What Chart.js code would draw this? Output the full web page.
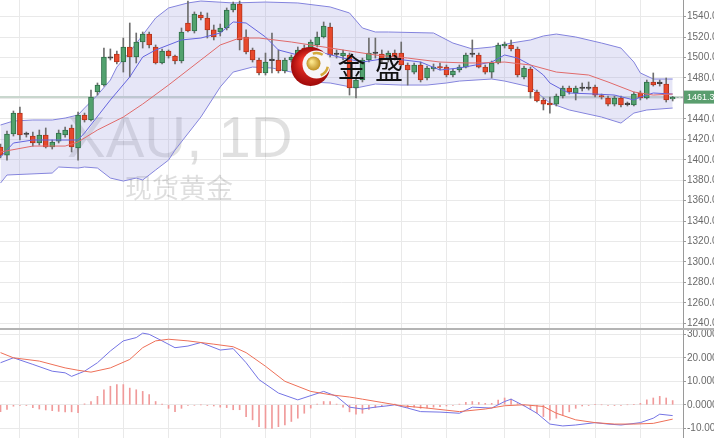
<!DOCTYPE html>
<html>
<head>
<meta charset="utf-8">
<script src="https://cdn.jsdelivr.net/npm/chart.js@4.4.1/dist/chart.umd.min.js"></script>
<style>
  html, body { margin: 0; padding: 0; background: #fff; }
  #wrap { position: relative; width: 714px; height: 438px; overflow: hidden; }
  #priceChart { position: absolute; left: 0; top: 0; }
  #macdChart { position: absolute; left: 0; top: 330px; }
  #sep { position: absolute; left: 0; top: 328px; width: 714px; height: 2px; background: #b4b4b4; }
</style>
</head>
<body>
<div id="wrap">
  <canvas id="priceChart" width="714" height="328"></canvas>
  <div id="sep"></div>
  <canvas id="macdChart" width="714" height="108"></canvas>
</div>
<script>
// K线数据（XAU 日线）
const opens = [
  1412.5,1404.6,1425.2,1445.7,1424.7,1423.2,1416.4,1424.2,1412.5,1418.3,
  1424.2,1431.1,1411.5,1443.8,1438.9,1466.3,1473.1,1499.5,1503.5,1495.6,
  1510.3,1500.5,1515.2,1523.0,1510.3,1494.7,1506.4,1501.5,1496.6,1533.8,
  1526.0,1541.6,1538.7,1527.0,1525.0,1528.9,1546.5,1552.4,1520.1,1507.4,
  1497.6,1484.9,1497.0,1497.6,1486.8,1497.6,1499.5,1509.3,1507.4,1512.3,
  1520.1,1529.9,1503.0,1501.5,1502.5,1470.2,1478.0,1497.6,1504.0,1503.5,
  1497.6,1504.4,1504.4,1492.7,1485.8,1492.7,1480.0,1488.8,1490.7,1490.7,
  1482.9,1487.8,1490.7,1503.0,1502.5,1490.7,1485.8,1494.7,1511.3,1512.3,
  1508.4,1481.0,1488.8,1466.3,1458.5,1455.5,1454.5,1462.4,1470.2,1465.3,
  1469.7,1469.7,1471.2,1462.4,1460.4,1454.5,1460.4,1454.0,1453.6,1465.3,
  1460.4,1476.1,1474.5,1474.1,1459.4
];
const highs = [
  1415.4,1428.1,1447.7,1451.6,1427.1,1427.1,1429.1,1431.1,1419.3,1429.1,
  1432.0,1434.0,1446.7,1445.7,1468.2,1475.1,1509.3,1508.4,1506.4,1519.1,
  1533.8,1524.0,1525.0,1525.0,1512.3,1508.4,1507.4,1502.5,1528.9,1555.3,
  1544.6,1544.6,1543.6,1531.8,1532.8,1548.5,1554.3,1555.3,1527.0,1509.3,
  1499.5,1504.4,1524.0,1507.4,1499.5,1502.5,1510.3,1512.3,1517.2,1525.0,
  1534.8,1533.8,1507.4,1507.4,1504.4,1480.0,1499.5,1519.1,1519.1,1507.4,
  1506.4,1507.4,1515.2,1494.7,1494.7,1495.6,1491.7,1493.7,1494.7,1492.7,
  1488.8,1492.7,1504.4,1517.2,1504.4,1492.7,1496.6,1514.2,1515.2,1517.2,
  1510.3,1491.7,1490.7,1468.2,1460.4,1461.4,1464.3,1472.1,1472.1,1472.1,
  1475.1,1476.1,1473.1,1464.3,1462.4,1462.4,1462.4,1456.5,1466.3,1467.3,
  1478.0,1484.9,1478.0,1480.0,1462.0
];
const lows = [
  1401.7,1399.7,1423.2,1419.3,1422.2,1413.4,1414.4,1411.5,1410.5,1416.4,
  1422.2,1407.6,1399.7,1436.9,1437.9,1463.3,1472.1,1497.6,1493.7,1485.8,
  1481.0,1494.7,1509.3,1509.3,1493.7,1493.7,1499.5,1493.7,1494.7,1525.0,
  1524.0,1536.7,1519.1,1517.2,1521.1,1527.0,1544.6,1507.4,1503.5,1495.6,
  1482.9,1482.9,1484.9,1484.9,1484.9,1495.6,1497.6,1502.5,1505.4,1510.3,
  1519.1,1500.5,1499.5,1497.6,1463.3,1460.4,1476.1,1495.6,1499.5,1495.6,
  1495.6,1497.6,1491.7,1473.1,1483.9,1476.1,1478.0,1486.8,1487.8,1481.0,
  1481.0,1485.8,1489.8,1500.5,1489.8,1483.9,1480.0,1493.7,1509.3,1506.4,
  1481.0,1479.0,1460.4,1456.5,1448.7,1445.7,1452.6,1460.4,1464.3,1458.5,
  1467.3,1468.2,1461.4,1459.4,1452.6,1452.6,1451.6,1452.6,1452.6,1458.5,
  1459.4,1472.1,1472.1,1456.5,1457.5
];
const closes = [
  1404.6,1425.2,1445.7,1424.2,1424.9,1416.4,1424.2,1412.5,1417.4,1426.2,
  1429.1,1412.5,1443.8,1438.9,1461.4,1473.1,1500.5,1499.3,1495.6,1510.3,
  1500.5,1515.2,1523.0,1512.3,1494.7,1506.4,1501.5,1496.6,1525.0,1526.0,
  1542.6,1538.7,1527.0,1520.1,1528.9,1546.5,1552.4,1517.2,1505.4,1497.6,
  1484.9,1495.6,1497.2,1486.8,1497.6,1500.5,1507.4,1505.4,1515.2,1520.1,
  1530.9,1502.5,1503.2,1504.4,1470.2,1478.0,1497.6,1504.4,1504.2,1497.6,
  1504.4,1500.5,1492.7,1487.8,1492.7,1478.0,1489.8,1490.7,1489.8,1482.9,
  1486.8,1490.7,1502.5,1503.2,1490.7,1485.8,1494.7,1512.3,1513.2,1508.4,
  1482.9,1489.8,1466.3,1457.5,1454.5,1453.6,1462.4,1470.2,1466.3,1470.2,
  1469.9,1469.9,1463.3,1461.4,1454.5,1460.4,1453.6,1454.2,1464.3,1460.4,
  1476.1,1473.1,1474.7,1458.5,1461.3
];
const lastPrice = 1461.30;

// 布林带（读图取样，x 为K线序号）
const upperIdx  = [0, 2, 5, 8, 10, 12, 13, 15, 17, 18, 20, 22, 24, 26, 29, 31, 36, 41, 46, 51, 54, 56, 58, 60, 67, 70, 73, 76, 79, 82, 84, 86, 89, 93, 96, 98, 99, 101, 104];
const upperVals = [1434.0, 1437.9, 1438.9, 1438.9, 1440.8, 1443.8, 1450.6, 1463.3, 1478.0, 1490.7, 1505.4, 1522.0, 1538.7, 1548.5, 1553.4, 1555.3, 1553.4, 1554.3, 1553.4, 1549.5, 1543.6, 1528.9, 1525.0, 1525.0, 1524.0, 1514.2, 1508.4, 1510.3, 1514.2, 1517.2, 1521.1, 1523.0, 1520.1, 1514.2, 1509.3, 1495.6, 1484.9, 1479.0, 1479.0];
const lowerIdx  = [0, 1, 8, 9, 12, 13, 15, 17, 19, 21, 22, 24, 26, 27, 31, 34, 36, 39, 42, 45, 48, 51, 55, 58, 62, 66, 69, 71, 76, 78, 82, 85, 88, 93, 96, 98, 100, 104];
const lowerVals = [1377.2, 1385.1, 1387.0, 1392.9, 1391.9, 1392.9, 1391.9, 1382.1, 1379.2, 1382.1, 1380.2, 1390.0, 1399.7, 1409.5, 1441.8, 1471.2, 1485.8, 1490.7, 1489.8, 1485.8, 1476.1, 1475.1, 1470.2, 1474.1, 1473.1, 1473.1, 1475.1, 1477.0, 1479.0, 1477.0, 1471.2, 1455.5, 1448.7, 1441.8, 1435.9, 1445.7, 1448.7, 1450.6];
// 快线（蓝）与中轨（红）
const fastIdx  = [0, 2, 5, 12, 13, 17, 20, 22, 24, 28, 31, 34, 36, 38, 41, 43, 46, 50, 53, 56, 60, 65, 68, 71, 76, 78, 80, 82, 84, 85, 87, 88, 92, 95, 98, 99, 101, 104];
const fastVals = [1402.7, 1416.4, 1419.3, 1419.3, 1426.2, 1458.5, 1481.0, 1500.5, 1507.4, 1517.2, 1519.1, 1524.0, 1534.8, 1533.8, 1520.1, 1507.4, 1502.5, 1504.4, 1499.5, 1495.6, 1499.5, 1495.6, 1487.8, 1489.8, 1495.6, 1502.5, 1499.5, 1492.7, 1482.9, 1475.1, 1468.2, 1465.3, 1464.3, 1463.3, 1458.5, 1461.4, 1465.3, 1464.3];
const midIdx  = [0, 5, 10, 12, 15, 19, 22, 26, 31, 34, 37, 40, 45, 48, 53, 58, 63, 68, 72, 74, 78, 82, 86, 91, 94, 98, 101, 104];
const midVals = [1407.6, 1413.4, 1413.4, 1417.4, 1429.1, 1441.8, 1454.5, 1473.1, 1497.6, 1512.3, 1519.1, 1519.1, 1515.2, 1512.3, 1507.4, 1502.5, 1499.5, 1495.6, 1494.7, 1494.7, 1495.6, 1492.7, 1485.8, 1482.9, 1476.1, 1466.3, 1463.3, 1464.3];

// MACD
const macdIdx  = [0, 2, 5, 8, 10, 11, 13, 15, 17, 19, 21, 22, 23, 25, 27, 29, 31, 34, 36, 38, 40, 43, 46, 50, 52, 54, 56, 58, 60, 61, 63, 65, 68, 71, 73, 76, 78, 79, 81, 83, 85, 87, 89, 92, 94, 96, 99, 101, 102, 104];
const macdVals = [17.9, 20.0, 17.2, 14.3, 13.6, 12.1, 14.3, 17.9, 22.9, 27.2, 28.6, 30.5, 30.0, 27.2, 24.3, 25.0, 26.5, 23.3, 23.9, 17.9, 10.7, 5.0, 2.1, 5.7, 3.6, -1.0, -1.8, -1.0, -0.4, 0.0, -1.4, -2.9, -3.1, -3.6, -1.0, -1.4, 1.4, 2.4, -0.4, -3.6, -8.2, -9.0, -8.6, -7.6, -8.2, -8.6, -7.6, -5.7, -4.0, -4.6];
const signalIdx  = [0, 2, 6, 10, 12, 14, 17, 20, 22, 24, 26, 29, 33, 36, 38, 41, 44, 48, 51, 54, 56, 59, 62, 66, 71, 75, 78, 81, 84, 86, 89, 92, 95, 98, 101, 104];
const signalVals = [22.2, 20.0, 18.6, 15.7, 14.7, 13.9, 15.7, 19.3, 24.3, 27.2, 27.9, 27.2, 25.8, 24.7, 22.2, 16.4, 10.0, 5.7, 4.3, 3.3, 2.4, 1.0, -0.4, -1.4, -2.9, -1.8, -0.4, 0.0, -0.7, -3.6, -6.4, -7.6, -8.2, -8.2, -7.9, -6.1];
const histVals = [
  -2.9, -2.0, -0.6, -0.3, -0.3, -1.2, -1.8, -2.2, -2.5, -2.8,
  -3.0, -3.0, -3.3, 0.4, 1.4, 3.6, 6.4, 7.9, 8.6, 8.6,
  7.1, 6.4, 5.7, 4.3, 1.4, 0.3, -1.5, -2.9, -1.5, -0.3,
  -0.2, 0.0, -0.3, -0.5, -1.0, -1.2, -2.1, -2.1, -5.0, -6.4,
  -9.3, -10.0, -10.0, -9.3, -8.6, -7.1, -5.7, -3.6, -1.4, 0.3,
  1.4, 1.4, 0.3, -1.0, -3.0, -4.0, -3.6, -2.0, -1.2, -0.8,
  -0.3, 0.3, -0.5, -1.2, -1.0, -1.5, -1.3, -1.0, -0.8, -0.5,
  -0.3, 0.3, 1.0, 1.4, 1.0, 0.6, 0.6, 2.0, 2.9, 2.4,
  0.5, -0.5, -2.1, -3.6, -5.0, -6.4, -5.7, -4.3, -3.0, -1.5,
  -0.5, -0.3, 0.2, 0.0, -0.3, -0.3, -0.2, 0.0, 0.2, 0.6,
  2.1, 2.9, 3.6, 2.9, 1.8
];

// 坐标刻度
const priceTicks = [1240, 1260, 1280, 1300, 1320, 1340, 1360, 1380, 1400, 1420, 1440, 1460, 1480, 1500, 1520, 1540];
const macdTicks = [-10, 0, 10, 20, 30];
const gridDays = [3, 12, 19, 26, 34, 41, 48, 55, 62, 69, 78, 85, 92, 99];

const COLORS = {
    up: '#52a26e', upBorder: '#2f6f48',
    down: '#e8482c', downBorder: '#b5341c',
    doji: '#3a3a3a',
    wick: '#6e6e6e',
    band: '#8383dd',
    bandFill: 'rgba(150, 150, 222, 0.24)',
    fast: '#6464de',
    mid: '#e06a6a',
    hist: '#f09a9a',
    grid: '#e9e9e9',
    axis: '#9a9a9a',
    tick: '#6a6a6a'
};
const FONT = 'Liberation Sans, Arial, sans-serif';
const X_MIN = -0.08, X_MAX = 105.6;

function toPoints(idx, vals) {
    return idx.map((x, i) => ({ x: x, y: vals[i] }));
}

function candleColor(i, border) {
    const d = closes[i] - opens[i];
    if (Math.abs(d) < 0.5) return COLORS.doji;
    if (d > 0) return border ? COLORS.upBorder : COLORS.up;
    return border ? COLORS.downBorder : COLORS.down;
}

function xScale() {
    return {
        type: 'linear', min: X_MIN, max: X_MAX, offset: false,
        ticks: { display: false },
        grid: { color: COLORS.grid, drawTicks: false, offset: false },
        border: { display: false },
        afterBuildTicks: s => { s.ticks = gridDays.map(v => ({ value: v })); },
        afterFit: s => { s.height = 0; s.paddingLeft = 0; s.paddingRight = 0; }
    };
}

function yScale(min, max, ticks, digits) {
    return {
        position: 'right', min: min, max: max,
        afterBuildTicks: s => { s.ticks = ticks.map(v => ({ value: v })); },
        afterFit: s => { s.width = 31; s.paddingTop = 0; s.paddingBottom = 0; },
        ticks: { callback: v => Number(v).toFixed(digits), font: { size: 10, family: FONT }, color: COLORS.tick, padding: 1 },
        grid: { color: COLORS.grid, tickLength: 3, tickColor: COLORS.axis },
        border: { color: COLORS.axis }
    };
}

// 水印、现价线、标志
const backdropPlugin = {
    id: 'backdrop',
    beforeDatasetsDraw(chart) {
        const ctx = chart.ctx, area = chart.chartArea;
        ctx.save();
        ctx.fillStyle = 'rgba(0, 0, 0, 0.12)';
        ctx.font = '58px ' + FONT;
        ctx.textBaseline = 'alphabetic';
        ctx.fillText('XAU, 1D', 67, 157);
        ctx.fillStyle = 'rgba(0, 0, 0, 0.13)';
        ctx.font = '27px "Noto Sans CJK SC"';
        ctx.textBaseline = 'middle';
        ctx.fillText('现货黄金', 125, 188);
        // 现价线
        const y = chart.scales.y.getPixelForValue(lastPrice);
        ctx.strokeStyle = '#c9d7ce';
        ctx.lineWidth = 2;
        ctx.beginPath();
        ctx.moveTo(area.left, y);
        ctx.lineTo(area.right, y);
        ctx.stroke();
        ctx.restore();
    },
    afterDatasetsDraw(chart) {
        const ctx = chart.ctx;
        const cx = 310.5, cy = 66.5, r = 19.5;
        ctx.save();
        let g = ctx.createRadialGradient(cx - 6, cy - 6, 2, cx, cy, r);
        g.addColorStop(0, '#f5362a');
        g.addColorStop(1, '#a00a0a');
        ctx.fillStyle = g;
        ctx.beginPath(); ctx.arc(cx, cy, r, 0, Math.PI * 2); ctx.fill();
        ctx.fillStyle = '#f7f5f8';
        ctx.beginPath(); ctx.arc(cx + 6, cy - 2, 14, 0, Math.PI * 2); ctx.fill();
        g = ctx.createRadialGradient(cx + 1, cy - 5, 1, cx + 3, cy - 3, 7);
        g.addColorStop(0, '#fbe58a');
        g.addColorStop(1, '#bf8f22');
        ctx.fillStyle = g;
        ctx.beginPath(); ctx.arc(cx + 3, cy - 3, 7, 0, Math.PI * 2); ctx.fill();
        ctx.strokeStyle = '#d3a83a';
        ctx.lineWidth = 2.5;
        ctx.beginPath(); ctx.arc(cx + 6, cy - 2, 11.5, -1.9, -1.0); ctx.stroke();
        ctx.beginPath(); ctx.arc(cx + 6, cy - 2, 11.5, 0.2, 1.2); ctx.stroke();
        ctx.fillStyle = '#111';
        ctx.font = '28px "Noto Sans CJK SC"';
        ctx.textAlign = 'center';
        ctx.textBaseline = 'middle';
        ctx.fillText('金', 351.5, 67);
        ctx.fillText('盛', 389, 68);
        ctx.restore();
    },
    afterDraw(chart) {
        const ctx = chart.ctx, area = chart.chartArea;
        const y = chart.scales.y.getPixelForValue(lastPrice);
        ctx.save();
        ctx.strokeStyle = '#9aa';
        ctx.setLineDash([2, 2]);
        ctx.lineWidth = 1;
        ctx.beginPath();
        ctx.moveTo(chart.scales.x.getPixelForValue(104) + 4, Math.round(y) + 0.5);
        ctx.lineTo(area.right, Math.round(y) + 0.5);
        ctx.stroke();
        ctx.setLineDash([]);
        ctx.fillStyle = '#5a9e6e';
        ctx.fillRect(area.right + 1, y - 6.5, 40, 13);
        ctx.fillStyle = '#fff';
        ctx.font = '9px ' + FONT;
        ctx.textBaseline = 'middle';
        ctx.fillText(lastPrice.toFixed(2), area.right + 4, y + 0.5);
        ctx.restore();
    }
};

const lineStyle = { type: 'line', borderWidth: 1, pointRadius: 0, tension: 0 };

new Chart(document.getElementById('priceChart'), {
    data: {
        datasets: [
            Object.assign({}, lineStyle, { label: 'upper', data: toPoints(upperIdx, upperVals), borderColor: COLORS.band, fill: '+1', backgroundColor: COLORS.bandFill, order: 4 }),
            Object.assign({}, lineStyle, { label: 'lower', data: toPoints(lowerIdx, lowerVals), borderColor: COLORS.band, fill: false, order: 4 }),
            {
                type: 'bar', label: 'wick', grouped: false, order: 3,
                data: lows.map((l, i) => ({ x: i, y: [l, highs[i]] })),
                backgroundColor: COLORS.wick, barThickness: 1
            },
            {
                type: 'bar', label: 'body', grouped: false, order: 2,
                data: opens.map((o, i) => ({ x: i, y: [o, closes[i]] })),
                backgroundColor: ctx => candleColor(ctx.dataIndex, false),
                borderColor: ctx => candleColor(ctx.dataIndex, true),
                borderWidth: 1, borderSkipped: false, barThickness: 5, minBarLength: 1.5
            },
            Object.assign({}, lineStyle, { label: 'mid', data: toPoints(midIdx, midVals), borderColor: COLORS.mid, fill: false, order: 1 }),
            Object.assign({}, lineStyle, { label: 'fast', data: toPoints(fastIdx, fastVals), borderColor: COLORS.fast, fill: false, order: 1 })
        ]
    },
    options: {
        responsive: false, animation: false, devicePixelRatio: 1,
        layout: { padding: 0 },
        plugins: { legend: { display: false }, tooltip: { enabled: false } },
        scales: { x: xScale(), y: yScale(1235.4, 1556.3, priceTicks, 2) }
    },
    plugins: [backdropPlugin]
});

new Chart(document.getElementById('macdChart'), {
    data: {
        datasets: [
            {
                type: 'bar', label: 'hist', grouped: false, order: 3,
                data: histVals.map((v, i) => ({ x: i, y: v })),
                backgroundColor: COLORS.hist, barThickness: 1
            },
            Object.assign({}, lineStyle, { label: 'signal', data: toPoints(signalIdx, signalVals), borderColor: '#ee7058', fill: false, order: 1 }),
            Object.assign({}, lineStyle, { label: 'macd', data: toPoints(macdIdx, macdVals), borderColor: '#7474e4', fill: false, order: 1 })
        ]
    },
    options: {
        responsive: false, animation: false, devicePixelRatio: 1,
        layout: { padding: 0 },
        plugins: { legend: { display: false }, tooltip: { enabled: false } },
        scales: { x: xScale(), y: yScale(-14.13, 31.83, macdTicks, 4) }
    }
});
</script>
</body>
</html>
